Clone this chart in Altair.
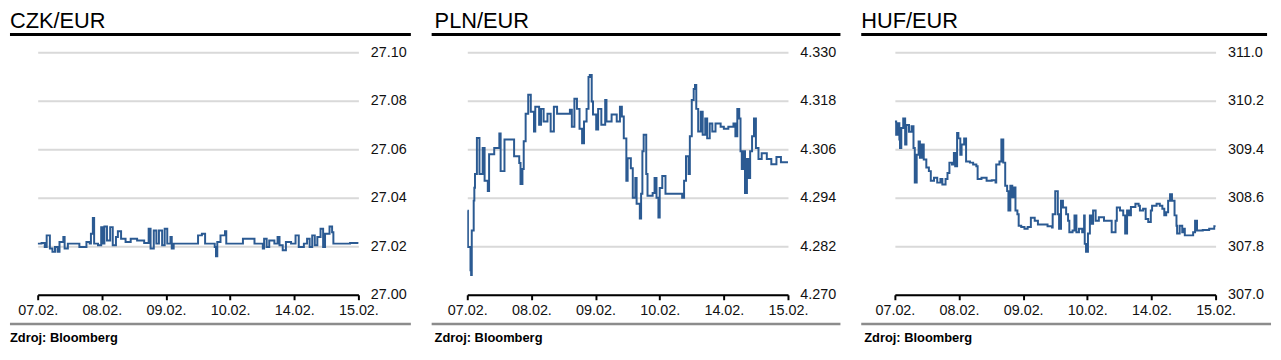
import altair as alt
import pandas as pd

# ---------------- data ----------------
dates = ["07.02.", "08.02.", "09.02.", "10.02.", "14.02.", "15.02."]

# x = position in trading days from 07.02. (0 = 07.02., 5 = 15.02.)
czk_t = [0.00, 0.06, 0.11, 0.14, 0.19, 0.23, 0.27, 0.31, 0.34, 0.40, 0.42, 0.47, 0.58, 0.65, 0.76,
         0.81, 0.83, 0.86, 0.88, 0.94, 0.99, 1.01, 1.04, 1.08, 1.13, 1.17, 1.22, 1.25, 1.30, 1.37,
         1.45, 1.55, 1.66, 1.73, 1.76, 1.81, 1.85, 1.89, 1.94, 1.98, 2.02, 2.07, 2.09, 2.12, 2.48,
         2.50, 2.56, 2.61, 2.71, 2.76, 2.78, 2.80, 2.85, 2.92, 2.94, 3.17, 3.20, 3.35, 3.38, 3.48,
         3.51, 3.53, 3.57, 3.61, 3.69, 3.74, 3.77, 3.82, 3.87, 3.95, 4.02, 4.07, 4.15, 4.20, 4.24,
         4.28, 4.32, 4.36, 4.41, 4.45, 4.48, 4.55, 4.59, 4.61, 4.72, 4.87, 5.00]
czk_v = [27.0211, 27.0214, 27.0197, 27.0245, 27.0191, 27.0177, 27.0197, 27.0177, 27.0218, 27.0238,
         27.0191, 27.0211, 27.0211, 27.0197, 27.0218, 27.0211, 27.0252, 27.0317, 27.0211, 27.0204,
         27.0279, 27.0211, 27.0282, 27.0224, 27.0279, 27.0204, 27.0238, 27.0262, 27.0231, 27.0218,
         27.0231, 27.0224, 27.0214, 27.0272, 27.0191, 27.0265, 27.0211, 27.0265, 27.0204, 27.0272,
         27.0211, 27.0238, 27.0191, 27.0211, 27.0211, 27.0245, 27.0252, 27.0211, 27.0211, 27.0197,
         27.0159, 27.0218, 27.0245, 27.0262, 27.0211, 27.0211, 27.0231, 27.0231, 27.0211, 27.0211,
         27.0191, 27.0231, 27.0197, 27.0224, 27.0211, 27.0238, 27.0204, 27.0184, 27.0218, 27.0211,
         27.0245, 27.0197, 27.0211, 27.0231, 27.0197, 27.0245, 27.0204, 27.0238, 27.0272, 27.0197,
         27.0252, 27.0282, 27.0258, 27.0211, 27.0211, 27.0214, 27.0211]

pln_t = [0.00, 0.01, 0.05, 0.06, 0.07, 0.10, 0.11, 0.12, 0.15, 0.19,
         0.24, 0.27, 0.32, 0.34, 0.42, 0.50, 0.52, 0.58, 0.71, 0.73,
         0.81, 0.83, 0.86, 0.88, 0.91, 0.95, 0.99, 1.04, 1.06, 1.12,
         1.15, 1.19, 1.25, 1.30, 1.35, 1.40, 1.50, 1.60, 1.63, 1.67,
         1.71, 1.75, 1.79, 1.82, 1.86, 1.89, 1.91, 1.94, 1.96, 2.01,
         2.04, 2.09, 2.15, 2.17, 2.25, 2.33, 2.38, 2.41, 2.44, 2.48,
         2.50, 2.55, 2.58, 2.62, 2.64, 2.69, 2.71, 2.73, 2.75, 2.79,
         2.81, 2.89, 2.92, 2.95, 2.98, 3.00, 3.04, 3.09, 3.15, 3.35,
         3.38, 3.41, 3.45, 3.47, 3.50, 3.53, 3.55, 3.57, 3.60, 3.64,
         3.67, 3.71, 3.74, 3.78, 3.82, 3.87, 3.95, 4.00, 4.07, 4.15,
         4.18, 4.21, 4.24, 4.26, 4.28, 4.31, 4.33, 4.36, 4.38, 4.41,
         4.44, 4.47, 4.50, 4.54, 4.59, 4.67, 4.74, 4.82, 4.89, 5.00]
pln_v = [4.2908, 4.2818, 4.2761, 4.2749, 4.2859, 4.2933, 4.2965, 4.2999, 4.3088, 4.2999,
         4.3063, 4.2982, 4.2957, 4.3048, 4.3063, 4.3099, 4.3006, 4.3084, 4.3084, 4.3043,
         4.3026, 4.2974, 4.3011, 4.3080, 4.3148, 4.3195, 4.3153, 4.3104, 4.3165, 4.3121,
         4.3160, 4.3129, 4.3148, 4.3104, 4.3165, 4.3148, 4.3148, 4.3158, 4.3116, 4.3185,
         4.3160, 4.3111, 4.3075, 4.3129, 4.3160, 4.3239, 4.3244, 4.3178, 4.3146, 4.3109,
         4.3160, 4.3121, 4.3182, 4.3129, 4.3146, 4.3129, 4.3165, 4.3141, 4.3087, 4.2982,
         4.3038, 4.3013, 4.2940, 4.2989, 4.2925, 4.2889, 4.2950, 4.3055, 4.3096, 4.2999,
         4.2945, 4.2952, 4.2989, 4.2940, 4.2891, 4.2964, 4.2994, 4.2950, 4.2950, 4.2940,
         4.2982, 4.3043, 4.2999, 4.3092, 4.3182, 4.3209, 4.3219, 4.3160, 4.3104, 4.3153,
         4.3096, 4.3136, 4.3087, 4.3124, 4.3104, 4.3124, 4.3116, 4.3111, 4.3116, 4.3124,
         4.3092, 4.3160, 4.3136, 4.3055, 4.3011, 4.3055, 4.2952, 4.3036, 4.2989, 4.3055,
         4.3092, 4.3136, 4.3063, 4.3036, 4.3050, 4.3036, 4.3023, 4.3041, 4.3028, 4.3026]

huf_t = [0.00, 0.02, 0.04, 0.07, 0.08, 0.10, 0.13, 0.16, 0.18, 0.22,
         0.26, 0.29, 0.31, 0.34, 0.37, 0.39, 0.42, 0.45, 0.49, 0.53,
         0.56, 0.61, 0.66, 0.71, 0.74, 0.79, 0.82, 0.85, 0.89, 0.92,
         0.94, 0.97, 0.99, 1.02, 1.04, 1.08, 1.11, 1.17, 1.22, 1.27,
         1.29, 1.35, 1.43, 1.51, 1.57, 1.58, 1.63, 1.66, 1.69, 1.72,
         1.75, 1.77, 1.80, 1.83, 1.85, 1.88, 1.91, 1.93, 1.97, 2.02,
         2.07, 2.12, 2.18, 2.23, 2.30, 2.38, 2.45, 2.46, 2.50, 2.54,
         2.56, 2.59, 2.62, 2.67, 2.70, 2.72, 2.77, 2.80, 2.83, 2.87,
         2.92, 2.95, 2.96, 2.98, 3.01, 3.04, 3.07, 3.09, 3.13, 3.18,
         3.26, 3.33, 3.38, 3.44, 3.46, 3.51, 3.56, 3.59, 3.62, 3.65,
         3.68, 3.75, 3.80, 3.82, 3.87, 3.91, 3.95, 3.99, 4.01, 4.08,
         4.13, 4.17, 4.20, 4.23, 4.26, 4.29, 4.32, 4.36, 4.39, 4.40,
         4.44, 4.48, 4.49, 4.52, 4.59, 4.65, 4.68, 4.71, 4.80, 4.90,
         4.98, 5.00]
huf_v = [309.86, 309.64, 309.83, 309.56, 309.42, 309.75, 309.91, 309.48, 309.80, 309.69,
         309.78, 309.42, 308.85, 309.31, 309.53, 309.26, 309.48, 309.23, 309.10, 309.04,
         308.88, 308.93, 308.85, 308.91, 308.82, 308.91, 309.01, 309.18, 309.15, 309.34,
         309.12, 309.67, 309.58, 309.31, 309.48, 309.58, 309.20, 309.18, 309.15, 309.12,
         308.91, 308.93, 308.88, 308.89, 308.85, 309.15, 309.20, 309.56, 309.18, 308.80,
         308.71, 308.39, 308.80, 308.61, 308.77, 308.39, 308.33, 308.14, 308.12, 308.09,
         308.12, 308.27, 308.22, 308.16, 308.16, 308.13, 308.11, 308.33, 308.71, 308.33,
         308.09, 308.55, 308.44, 308.33, 308.22, 308.03, 308.06, 308.31, 308.03, 308.09,
         308.03, 308.31, 307.84, 307.71, 308.01, 308.31, 308.17, 308.39, 308.22, 308.28,
         308.22, 308.22, 308.03, 308.22, 308.44, 308.39, 308.31, 308.01, 308.39, 308.31,
         308.45, 308.50, 308.47, 308.39, 308.42, 308.25, 308.20, 308.39, 308.47, 308.50,
         308.47, 308.42, 308.31, 308.36, 308.55, 308.66, 308.55, 308.31, 308.14, 308.01,
         308.14, 308.03, 308.09, 307.98, 307.98, 308.03, 308.22, 308.06, 308.07, 308.09,
         308.13, 308.12]

czk_ticks = [27.00, 27.02, 27.04, 27.06, 27.08, 27.10]
pln_ticks = [4.270, 4.282, 4.294, 4.306, 4.318, 4.330]
huf_ticks = [307.0, 307.8, 308.6, 309.4, 310.2, 311.0]

source = "Zdroj: Bloomberg"

# ---------------- styling ----------------
FONT = "Liberation Sans"
LINE = "#2b5a92"
TXT = "#111111"
W, H = 324, 245
label_expr = "[" + ",".join("'" + d + "'" for d in dates) + "][datum.value]"


def panel(name, t, v, ticks, fmt, left, right_black, right_gray, title_x, src_x):
    df = pd.DataFrame({"t": t, "v": v})
    x = alt.X(
        "t:Q",
        scale=alt.Scale(domain=[0, len(dates) - 1], nice=False, zero=False),
        axis=alt.Axis(values=list(range(len(dates))), labelExpr=label_expr, title=None,
                      grid=False, domain=True, domainColor="black", domainWidth=2,
                      ticks=True, tickColor="black", tickWidth=2, tickSize=5,
                      labelPadding=4, labelFontSize=14.5, labelColor=TXT, labelFont=FONT,
                      labelFlush=False, labelOverlap=False),
    )
    y = alt.Y(
        "v:Q",
        scale=alt.Scale(domain=[ticks[0], ticks[-1]], nice=False, zero=False),
        axis=alt.Axis(orient="right", values=ticks, format=fmt, title=None,
                      domain=False, ticks=False, grid=True, gridColor="#d9d9d9", gridWidth=2,
                      labelPadding=12, labelFontSize=14.5, labelColor=TXT, labelFont=FONT,
                      labelFlush=False, labelOverlap=False),
    )
    line = alt.Chart(df).mark_line(color=LINE, strokeWidth=2, clip=True,
                                   interpolate="step-after").encode(x=x, y=y)
    base = alt.Chart(pd.DataFrame({"a": [0]}))
    title = base.mark_text(text=name, align="left", baseline="alphabetic", fontSize=22,
                           font=FONT, color="black").encode(x=alt.value(title_x), y=alt.value(-25))
    black = base.mark_rule(color="black", strokeWidth=3).encode(
        x=alt.value(left), x2=alt.value(right_black), y=alt.value(-18))
    gray = base.mark_rule(color="#8c8c8c", strokeWidth=2.5).encode(
        x=alt.value(left), x2=alt.value(right_gray), y=alt.value(274.5))
    src = base.mark_text(text=source, align="left", baseline="alphabetic", fontSize=13,
                         fontWeight="bold", font=FONT, color="black").encode(
        x=alt.value(src_x), y=alt.value(292.5))
    return alt.layer(line, title, black, gray, src).properties(width=W, height=H)


p1 = panel("CZK/EUR", czk_t, czk_v, czk_ticks, ".2f", -28, 377, 377, -28, -28)
p2 = panel("PLN/EUR", pln_t, pln_v, pln_ticks, ".3f", -36, 377, 377, -33, -33)
p3 = panel("HUF/EUR", huf_t, huf_v, huf_ticks, ".1f", -34, 376, 380, -34, -31)

chart = (
    alt.hconcat(p1, p2, p3, spacing=17)
    .properties(padding=0)
    .configure_view(stroke=None)
)

chart.save("out.html", embed_options={"renderer": "svg", "actions": False})
